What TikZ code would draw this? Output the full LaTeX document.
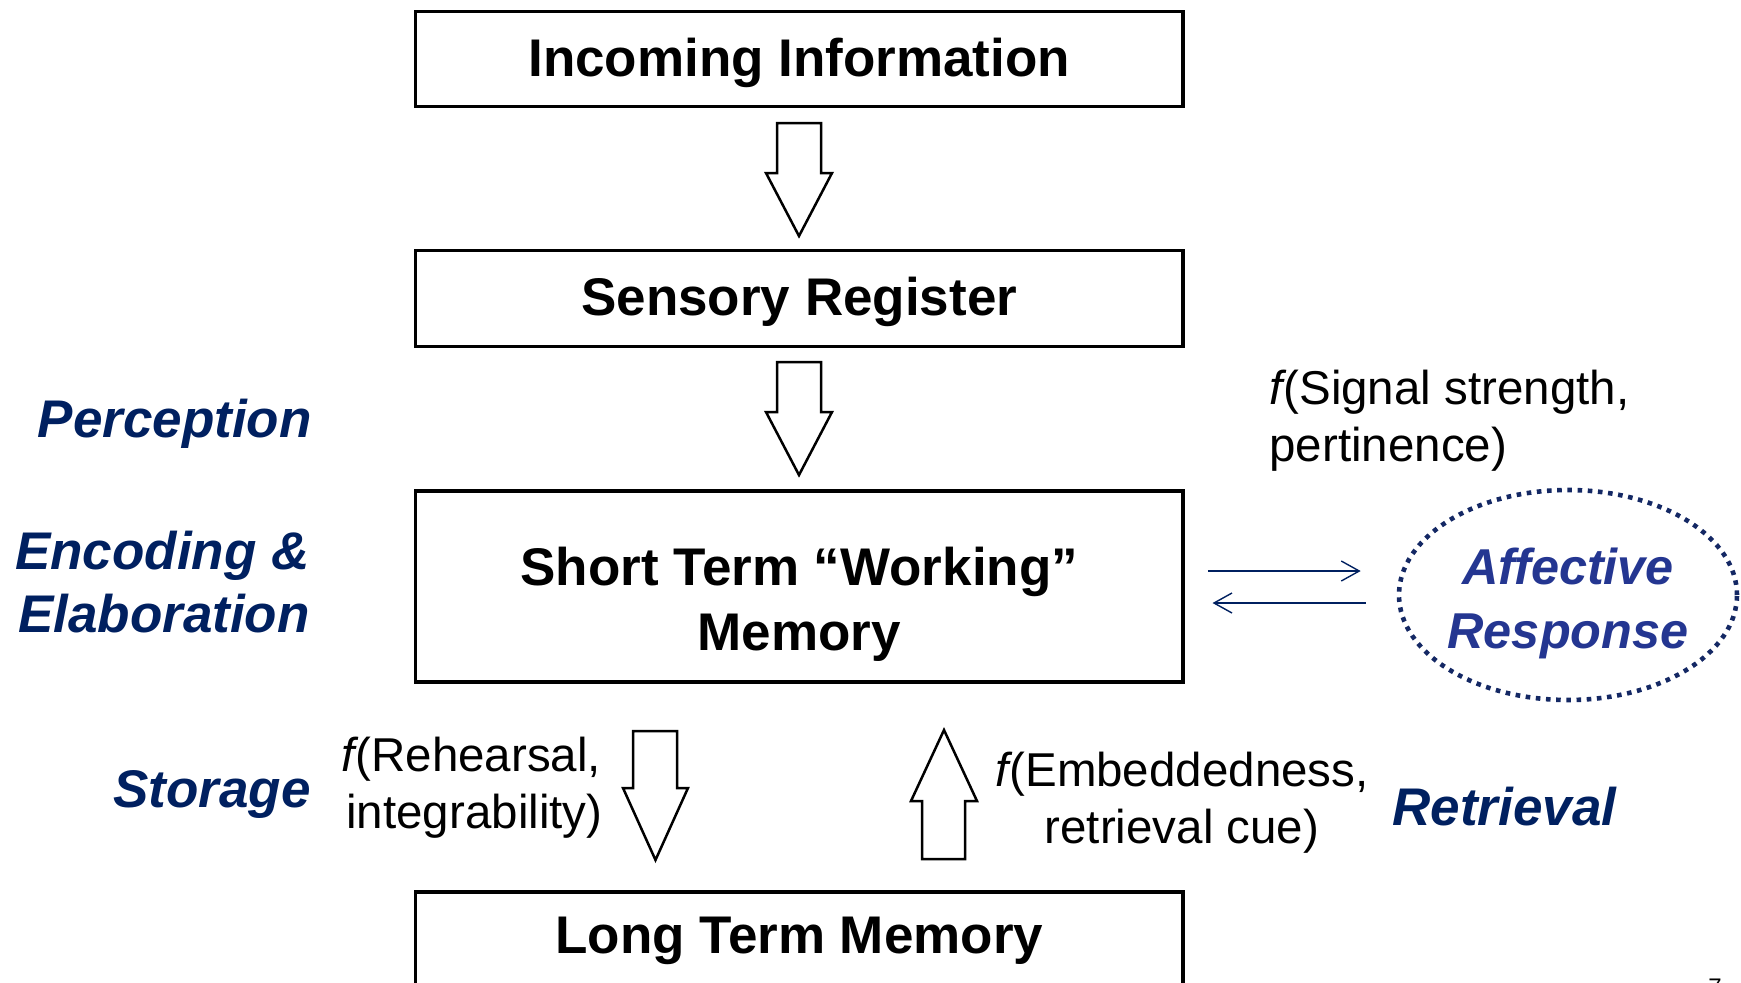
\documentclass[tikz,border=0pt]{standalone}
\usepackage{fontspec}
\setmainfont{Liberation Sans}
\usetikzlibrary{arrows.meta,shapes.geometric,calc}
\definecolor{navy}{RGB}{0,32,96}
\definecolor{affblue}{RGB}{36,54,145}
\definecolor{dotblue}{RGB}{20,40,100}
\newcommand{\fn}{\textit{f}\kern-1.6pt}

\begin{document}
\begin{tikzpicture}[x=0.5pt,y=-0.5pt,
  stagebox/.style={draw=black, line width=1.75pt, minimum width=383.75pt, inner sep=0pt},
  boxtext/.style={font=\bfseries\fontsize{26.5}{32.5}\selectfont, align=center, inner sep=0pt},
  phase/.style={font=\bfseries\itshape\fontsize{26.5}{31.5}\selectfont, text=navy, align=right, inner sep=0pt},
  note/.style={font=\fontsize{23.75}{28.5}\selectfont, inner sep=0pt},
  blockarrow/.style={draw=black, line width=1.25pt, line join=miter, fill=white},
  linkarrow/.style={draw=navy, line width=0.7pt, -{Straight Barb[length=9pt,width=10pt]}},
  affecttext/.style={font=\bfseries\itshape\fontsize{25.2}{32}\selectfont, text=affblue, align=center, inner sep=0pt},
]
\useasboundingbox (0,0) rectangle (1741,982);
\clip (0,0) rectangle (1741,982);

% memory stages
\node[stagebox, minimum height=47.5pt] (incoming) at (799.25,59) {};
\node[boxtext] (incomingtext) at (799.25,62.5) {Incoming Information};
\node[stagebox, minimum height=48pt] (sensory) at (799.25,298.5) {};
\node[boxtext] (sensorytext) at (799.25,302) {Sensory Register};
\node[stagebox, minimum height=95.5pt] (stm) at (799.25,586.5) {};
\node[boxtext] (stmtext) at (799.25,604.5) {Short Term “Working”\\Memory};
\node[stagebox, minimum height=54pt] (ltm) at (799.25,946) {};
\node[boxtext] (ltmtext) at (799.25,941) {Long Term Memory};

% block arrows between the stages
\draw[blockarrow] (777,123) -- (821,123) -- (821,173) -- (832,173) -- (799,236) -- (766,173) -- (777,173) -- cycle;
\draw[blockarrow] (777,362) -- (821,362) -- (821,412) -- (832,412) -- (799,475) -- (766,412) -- (777,412) -- cycle;
\draw[blockarrow] (633,731) -- (677,731) -- (677,788) -- (688,788) -- (655.5,860) -- (623,788) -- (633,788) -- cycle;
\draw[blockarrow] (922,859) -- (965,859) -- (965,801) -- (977,801) -- (944,730) -- (911,801) -- (922,801) -- cycle;

% affective response
\node[ellipse, draw=dotblue, line width=2.3pt, dash pattern=on 2.3pt off 2.8pt,
      minimum width=169pt, minimum height=105pt, inner sep=0pt] (affect) at (1568,595) {};
\node[affecttext] (affecttxt) at (1568,603) {Affective\\Response};

\coordinate (r1) at ($(stm.east)+(0,-15.5)$);
\coordinate (r2) at ($(stm.east)+(0,16.5)$);
\draw[linkarrow, shorten <=11.6pt, shorten >=18pt] (r1) -- (r1 -| affect.west);
\draw[linkarrow, shorten <=15.5pt, shorten >=13.9pt] (r2 -| affect.west) -- (r2);

% process labels
\node[phase, anchor=east] (perception) at (312,423.5) {Perception};
\node[phase, anchor=east] (encoding) at (310,582) {Encoding \&\\Elaboration};
\node[phase, anchor=east] (storage) at (311,794.5) {Storage};
\node[phase, anchor=west] (retrieval) at (1392,807) {Retrieval};

% governing factors
\node[note, anchor=west, align=left] (signal) at (1269,420.5) {\fn(Signal strength,\\pertinence)};
\node[note, anchor=west, align=left] (rehearsal) at (341,787.5) {\fn(Rehearsal,\\\hspace{2.5pt}integrability)};
\node[note, align=center] (embed) at (1182,802.5) {\fn(Embeddedness,\\retrieval cue)};

% page number
\node[font=\fontsize{12}{14}\selectfont, anchor=base west, inner sep=0pt] (pagenum) at (1708,995) {7};
\end{tikzpicture}
\end{document}
